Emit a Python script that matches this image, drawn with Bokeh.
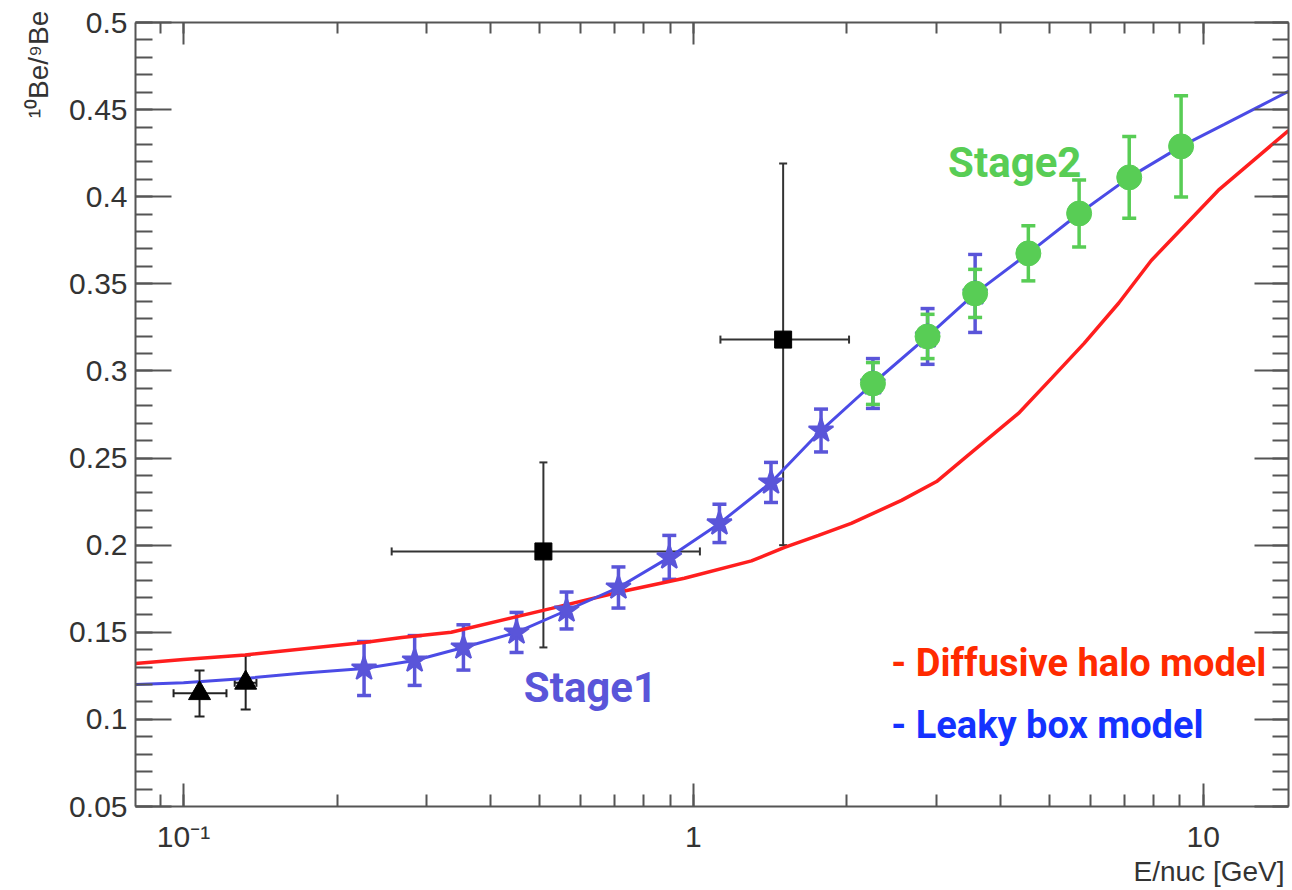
import math
from bokeh.plotting import figure
from bokeh.models import (ColumnDataSource, Whisker, TeeHead, Label, LogAxis, LinearAxis,
                          LogTicker, SingleIntervalTicker, CustomJSTickFormatter, Range1d)
from bokeh.embed import file_html
from bokeh.resources import INLINE

# ---------------- data ----------------
leaky_E = [0.0805, 0.1, 0.132, 0.17, 0.226, 0.284, 0.354, 0.45, 0.564, 0.713, 0.897, 1.125,
           1.42, 1.78, 2.25, 2.88, 3.57, 4.54, 5.71, 7.16, 9.05, 11.0, 13.0, 14.7]
leaky_ratio = [0.1200, 0.1210, 0.1235, 0.1265, 0.1292, 0.1338, 0.1413, 0.1499, 0.1625, 0.1757,
               0.1930, 0.2125, 0.2360, 0.2658, 0.2928, 0.3198, 0.3445, 0.3675, 0.3904, 0.4111,
               0.4289, 0.4415, 0.4524, 0.4605]

halo_E = [0.0805, 0.1, 0.132, 0.226, 0.268, 0.335, 0.527, 0.713, 0.96, 1.30, 1.51, 1.76,
          2.04, 2.56, 3.0, 3.40, 4.34, 5.05, 5.84, 6.83, 7.91, 9.2, 10.7, 12.45, 14.7]
halo_ratio = [0.1321, 0.1344, 0.1370, 0.1441, 0.1470, 0.1500, 0.1637, 0.1730, 0.1810, 0.1910,
              0.1987, 0.2056, 0.2125, 0.2257, 0.2365, 0.2498, 0.2756, 0.2960, 0.3158, 0.3390,
              0.3634, 0.3835, 0.4036, 0.4200, 0.4380]

stage1_E = [0.226, 0.284, 0.354, 0.45, 0.564, 0.713, 0.897, 1.125, 1.42, 1.78]
stage1_ratio = [0.1292, 0.1338, 0.1413, 0.1499, 0.1625, 0.1757, 0.1930, 0.2125, 0.2360, 0.2658]
stage1_err = [0.0155, 0.0143, 0.0130, 0.0115, 0.0106, 0.0118, 0.0126, 0.0110, 0.0115, 0.0123]

# Stage1 points hidden under the first Stage2 points (only error bars visible)
stage1b_E = [2.25, 2.88, 3.57]
stage1b_ratio = [0.2928, 0.3198, 0.3445]
stage1b_err = [0.0143, 0.0160, 0.0224]

stage2_E = [2.25, 2.88, 3.57, 4.54, 5.71, 7.16, 9.05]
stage2_ratio = [0.2928, 0.3198, 0.3445, 0.3675, 0.3904, 0.4111, 0.4289]
stage2_err = [0.0120, 0.0127, 0.0138, 0.0158, 0.0192, 0.0235, 0.0290]

tri_E = [0.1075, 0.1324]
tri_ratio = [0.1150, 0.1210]
tri_ylo = [0.1017, 0.1057]
tri_yhi = [0.1280, 0.1367]
tri_xlo = [0.0956, 0.1260]
tri_xhi = [0.1214, 0.1390]

sq_E = [0.508, 1.50]
sq_ratio = [0.1964, 0.3180]
sq_ylo = [0.1413, 0.2000]
sq_yhi = [0.2475, 0.4190]
sq_xlo = [0.256, 1.13]
sq_xhi = [1.03, 2.02]

y_label = "¹⁰Be/⁹Be"
x_label = "E/nuc [GeV]"
stage1_text = "Stage1"
stage2_text = "Stage2"
legend_texts = ["- Diffusive halo model", "- Leaky box model"]

# ---------------- colours ----------------
RED = "#ff1e1e"
BLUE_LINE = "#4b4be6"
STAR = "#5a55d9"
GREEN = "#58cd55"
BLACK = "#000000"
AXIS = "#555555"

p = figure(width=1292, height=890, x_axis_type="log",
           x_range=Range1d(0.0805, 14.7), y_range=Range1d(0.05, 0.5),
           output_backend="svg", toolbar_location=None,
           min_border_left=135, min_border_right=4, min_border_top=22, min_border_bottom=84)
p.background_fill_color = "white"
p.border_fill_color = "white"
p.outline_line_color = None
p.xgrid.visible = False
p.ygrid.visible = False

TICK_FONT = "Liberation Sans"
EM = "\u2003"  # em spaces push the centred axis titles to the end of each axis (ROOT style)
EN = "\u2002"

# bottom x axis
xa = p.xaxis[0]
xa.ticker = LogTicker(num_minor_ticks=10)
xa.formatter = CustomJSTickFormatter(code="""
  const e = Math.round(Math.log10(tick));
  if (e == 0) return '1';
  if (e == 1) return '10';
  if (e == -1) return '10\u207B\u00B9';
  return String(tick);
""")
xa.major_tick_in = 23
xa.major_tick_out = 0
xa.minor_tick_in = 12
xa.minor_tick_out = 0
xa.axis_line_color = AXIS
xa.axis_line_width = 2
xa.major_tick_line_color = AXIS
xa.major_tick_line_width = 2
xa.minor_tick_line_color = AXIS
xa.minor_tick_line_width = 2
xa.major_label_text_font = TICK_FONT
xa.major_label_text_font_size = "30px"
xa.major_label_text_color = "#333333"
xa.major_label_standoff = 13
xa.axis_label = EM * 35 + EN + x_label
xa.axis_label_text_font = TICK_FONT
xa.axis_label_text_font_size = "28px"
xa.axis_label_text_font_style = "normal"
xa.axis_label_text_color = "#333333"
xa.axis_label_standoff = 0

# left y axis
ya = p.yaxis[0]
ya.ticker = SingleIntervalTicker(interval=0.05, num_minor_ticks=5)
ya.formatter = CustomJSTickFormatter(code="return (Math.round(tick*100)/100).toString();")
ya.major_tick_in = 36
ya.major_tick_out = 0
ya.minor_tick_in = 17
ya.minor_tick_out = 0
ya.axis_line_color = AXIS
ya.axis_line_width = 2
ya.major_tick_line_color = AXIS
ya.major_tick_line_width = 2
ya.minor_tick_line_color = AXIS
ya.minor_tick_line_width = 2
ya.major_label_text_font = TICK_FONT
ya.major_label_text_font_size = "30px"
ya.major_label_text_color = "#333333"
ya.major_label_standoff = 8
ya.axis_label = EM * 25 + y_label
ya.axis_label_text_font = TICK_FONT
ya.axis_label_text_font_size = "28px"
ya.axis_label_text_font_style = "normal"
ya.axis_label_text_color = "#333333"
ya.axis_label_standoff = 12

# mirrored axes (ticks only)
top = LogAxis(ticker=LogTicker(num_minor_ticks=10),
              major_tick_in=22, major_tick_out=0, minor_tick_in=11, minor_tick_out=0,
              axis_line_color=AXIS, axis_line_width=2,
              major_tick_line_color=AXIS, major_tick_line_width=2,
              minor_tick_line_color=AXIS, minor_tick_line_width=2,
              major_label_text_font_size="1px", major_label_text_color=None,
              major_label_standoff=0)
p.add_layout(top, "above")
right = LinearAxis(ticker=SingleIntervalTicker(interval=0.05, num_minor_ticks=5),
                   major_tick_in=34, major_tick_out=0, minor_tick_in=16, minor_tick_out=0,
                   axis_line_color=AXIS, axis_line_width=2,
                   major_tick_line_color=AXIS, major_tick_line_width=2,
                   minor_tick_line_color=AXIS, minor_tick_line_width=2,
                   major_label_text_font_size="1px", major_label_text_color=None,
                   major_label_standoff=0)
p.add_layout(right, "right")

# ---------------- model curves ----------------
p.line(halo_E, halo_ratio, line_color=RED, line_width=3.5)
p.line(leaky_E, leaky_ratio, line_color=BLUE_LINE, line_width=3)

# ---------------- error bars ----------------
def yerr(xs, ys, errs=None, lo=None, hi=None, color=BLACK, width=2, cap=10):
    if lo is None:
        lo = [y - e for y, e in zip(ys, errs)]
        hi = [y + e for y, e in zip(ys, errs)]
    src = ColumnDataSource(dict(x=xs, lo=lo, hi=hi))
    w = Whisker(source=src, base="x", lower="lo", upper="hi", dimension="height",
                line_color=color, line_width=width,
                lower_head=TeeHead(size=cap, line_color=color, line_width=width),
                upper_head=TeeHead(size=cap, line_color=color, line_width=width))
    p.add_layout(w)

def xerr(ys, lo, hi, color=BLACK, width=2, cap=8):
    src = ColumnDataSource(dict(y=ys, lo=lo, hi=hi))
    w = Whisker(source=src, base="y", lower="lo", upper="hi", dimension="width",
                line_color=color, line_width=width,
                lower_head=TeeHead(size=cap, line_color=color, line_width=width),
                upper_head=TeeHead(size=cap, line_color=color, line_width=width))
    p.add_layout(w)

yerr(stage1_E, stage1_ratio, stage1_err, color=STAR, width=3.5, cap=14)
yerr(stage1b_E, stage1b_ratio, stage1b_err, color=STAR, width=3.5, cap=14)
yerr(stage2_E, stage2_ratio, stage2_err, color=GREEN, width=3.5, cap=14)
yerr(tri_E, tri_ratio, lo=tri_ylo, hi=tri_yhi, color="#222222", width=2, cap=10)
xerr(tri_ratio, tri_xlo, tri_xhi, color="#222222", width=2, cap=8)
yerr(sq_E, sq_ratio, lo=sq_ylo, hi=sq_yhi, color="#333333", width=2, cap=8)
xerr(sq_ratio, sq_xlo, sq_xhi, color="#333333", width=2, cap=8)

# ---------------- markers ----------------
p.scatter(stage1_E, stage1_ratio, marker="star", size=26, fill_color=STAR, line_color=STAR,
          line_width=2)
p.scatter(stage1b_E, stage1b_ratio, marker="star", size=26, fill_color=STAR, line_color=STAR,
          line_width=2)
p.scatter(stage2_E, stage2_ratio, marker="circle", size=25, fill_color=GREEN, line_color=GREEN)
p.scatter(tri_E, tri_ratio, marker="triangle", size=22, fill_color=BLACK, line_color=BLACK)
p.scatter(sq_E, sq_ratio, marker="square", size=17, fill_color=BLACK, line_color=BLACK)

# ---------------- texts ----------------
TXT_FONT = "Roboto"
p.add_layout(Label(x=0.465, y=0.1184, text=stage1_text, text_font=TXT_FONT,
                   text_font_style="bold", text_font_size="42px", text_color=STAR,
                   text_baseline="alphabetic"))
p.add_layout(Label(x=3.16, y=0.4196, text=stage2_text, text_font=TXT_FONT,
                   text_font_style="bold", text_font_size="42px", text_color=GREEN,
                   text_baseline="alphabetic"))
p.add_layout(Label(x=2.445, y=0.1325, text=legend_texts[0], text_font=TXT_FONT,
                   text_font_style="bold", text_font_size="38px", text_color="#ff2a00",
                   text_baseline="alphabetic"))
p.add_layout(Label(x=2.445, y=0.0965, text=legend_texts[1], text_font=TXT_FONT,
                   text_font_style="bold", text_font_size="38px", text_color="#1432ff",
                   text_baseline="alphabetic"))

open("out.html", "w").write(file_html(p, INLINE))
